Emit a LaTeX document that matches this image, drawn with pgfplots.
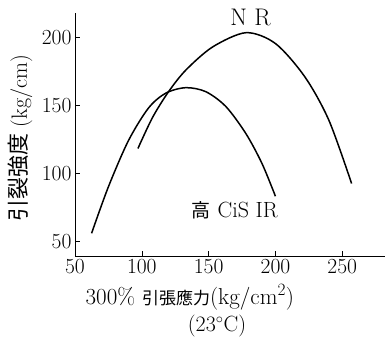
\documentclass[border=0pt]{standalone}
\usepackage{fontspec}
\usepackage{pgfplots}
\pgfplotsset{compat=1.18}
\newfontfamily\cjk{Noto Sans CJK JP}
\begin{document}
\begin{tikzpicture}
\begin{axis}[
 scale only axis, width=310pt, height=243pt,
 xmin=50, xmax=282, ymin=39, ymax=218,
 axis x line=bottom, axis y line=left,
 axis line style={-, line width=0.8pt},
 xtick={50,100,150,200,250}, ytick={50,100,150,200},
 tick align=inside, major tick length=5pt,
 tick style={line width=0.6pt, black},
 /pgf/number format/assume math mode=true,
 ticklabel style={font=\fontsize{21.5}{24}\selectfont},
 clip=false,
]
\addplot[black, line width=1.5pt, smooth] coordinates {
 (62.4,55.7) (75,90) (90,124) (105,148) (118,159) (133,163) (148,160)
 (163,149) (178,129) (190,107) (200,83)};
\addplot[black, line width=1.5pt, smooth] coordinates {
 (97.1,118.2) (108,141) (120,160) (133,176) (153,193) (178,203.5)
 (200,195.5) (222,171) (240,139) (257,92.4)};
\node[font=\fontsize{24}{26}\selectfont] at (axis cs:181.4,215) {N R};
\node[font=\fontsize{22}{24}\selectfont] at (axis cs:169.7,72.4) {{\cjk\fontsize{19}{21}\selectfont 高} CiS IR};
\node[font=\fontsize{22}{24}\selectfont, rotate=90] at (axis cs:9.1,125.7) {{\cjk 引裂強度} (kg/cm)};
\node[font=\fontsize{23}{25}\selectfont, inner sep=0pt] at (axis cs:136,8.7) {300\% {\cjk\fontsize{17}{19}\selectfont 引張應力}(kg/cm$^2$)};
\node[font=\fontsize{22}{24}\selectfont, inner sep=0pt] at (axis cs:156.3,-12.5) {(23$^\circ$C)};
\coordinate (ll) at (rel axis cs:0,0);
\end{axis}
\pgfresetboundingbox
\path (ll) ++(-75pt,-85pt) rectangle ++(387pt,341pt);
\end{tikzpicture}
\end{document}
